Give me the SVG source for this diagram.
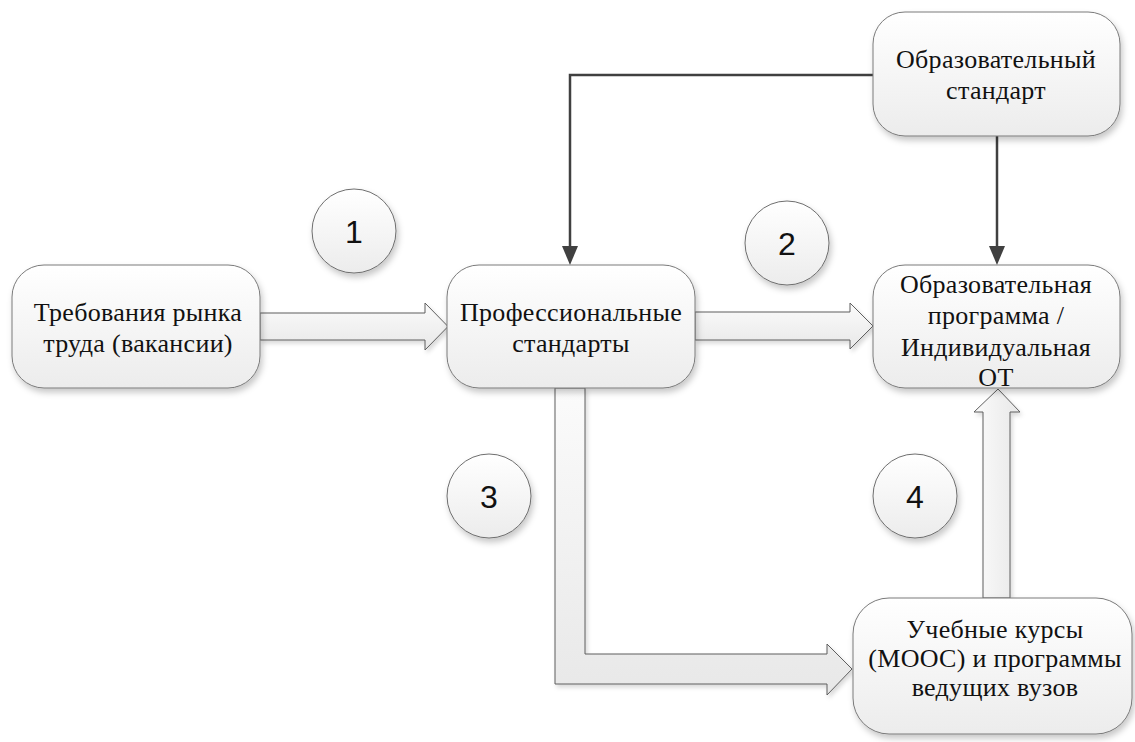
<svg xmlns="http://www.w3.org/2000/svg" width="1135" height="742" viewBox="0 0 1135 742">
<defs>
<linearGradient id="gBox" x1="0" y1="0" x2="0" y2="1"><stop offset="0" stop-color="#ffffff"/><stop offset="1" stop-color="#ececec"/></linearGradient>
<linearGradient id="gArrH" x1="0" y1="0" x2="0" y2="1"><stop offset="0" stop-color="#fbfbfb"/><stop offset="1" stop-color="#e8e8e8"/></linearGradient>
<linearGradient id="gArrV" x1="0" y1="0" x2="1" y2="0"><stop offset="0" stop-color="#fbfbfb"/><stop offset="1" stop-color="#e8e8e8"/></linearGradient>
<filter id="sh" x="-20%" y="-20%" width="140%" height="150%"><feDropShadow dx="2" dy="4" stdDeviation="3" flood-color="#000" flood-opacity="0.22"/></filter>
<filter id="sh2" x="-20%" y="-20%" width="140%" height="150%"><feDropShadow dx="2" dy="3" stdDeviation="2" flood-color="#000" flood-opacity="0.15"/></filter>
<style>
.box{fill:url(#gBox);stroke:#7a7a7a;stroke-width:1;filter:url(#sh)}
.circ{fill:url(#gBox);stroke:#6e6e6e;stroke-width:1;filter:url(#sh)}
.arrH{fill:url(#gArrH);stroke:#5e5e5e;stroke-width:1;filter:url(#sh2)}
.arrV{fill:url(#gArrV);stroke:#5e5e5e;stroke-width:1;filter:url(#sh2)}
.t{font-family:"Liberation Serif","Times New Roman",serif;font-size:26px;letter-spacing:0.3px;fill:#111;text-anchor:middle}
.n{font-family:"Liberation Sans",Arial,sans-serif;font-size:32px;fill:#111;text-anchor:middle}
.ln{fill:none;stroke:#404040;stroke-width:2.5}
.ah{fill:#404040}
</style>
</defs>
<rect width="1135" height="742" fill="#ffffff"/>
<g id="connectors">
<polygon class="arrH" points="260,313 425,313 425,303 448,326.5 425,350 425,340 260,340"/>
<polygon class="arrH" points="695,312 850,312 850,303 873,326 850,349 850,340 695,340"/>
<polygon class="arrH" points="555,388 555,684 827,684 827,695 852,669 827,644 827,654 585,654 585,388"/>
<polygon class="arrV" points="983,598 983,412 974,412 998,389 1020,412 1010,412 1010,598"/>
<path class="ln" d="M873,75 H570 V250"/>
<polygon class="ah" points="562,246 578,246 570,265"/>
<path class="ln" d="M997,136 V250"/>
<polygon class="ah" points="989,246 1005,246 997,265"/>
</g>
<g id="node-market">
<rect class="box" x="12" y="265" width="248" height="123" rx="32"/>
<text class="t" font-family="Liberation Serif, serif" x="138" y="321">Требования рынка</text>
<text class="t" font-family="Liberation Serif, serif" x="138" y="352">труда (вакансии)</text>
</g>
<g id="node-prof">
<rect class="box" x="447" y="265" width="248" height="123" rx="32"/>
<text class="t" font-family="Liberation Serif, serif" x="571" y="321">Профессиональные</text>
<text class="t" font-family="Liberation Serif, serif" x="571" y="352">стандарты</text>
</g>
<g id="node-edu-standard">
<rect class="box" x="873" y="12" width="247" height="124" rx="32"/>
<text class="t" font-family="Liberation Serif, serif" x="996" y="68">Образовательный</text>
<text class="t" font-family="Liberation Serif, serif" x="996" y="99">стандарт</text>
</g>
<g id="node-edu-program">
<rect class="box" x="873" y="265" width="247" height="123" rx="32"/>
<text class="t" font-family="Liberation Serif, serif" x="996" y="293">Образовательная</text>
<text class="t" font-family="Liberation Serif, serif" x="996" y="324">программа /</text>
<text class="t" font-family="Liberation Serif, serif" x="996" y="356">Индивидуальная</text>
<text class="t" font-family="Liberation Serif, serif" x="996" y="386">ОТ</text>
</g>
<g id="node-courses">
<rect class="box" x="853" y="598" width="279" height="136" rx="36"/>
<text class="t" font-family="Liberation Serif, serif" x="995" y="638">Учебные курсы</text>
<text class="t" font-family="Liberation Serif, serif" x="995" y="667">(МООС) и программы</text>
<text class="t" font-family="Liberation Serif, serif" x="995" y="696">ведущих вузов</text>
</g>
<g id="circle-1">
<circle class="circ" cx="354" cy="231" r="42"/>
<text class="n" x="354" y="243">1</text>
</g>
<g id="circle-2">
<circle class="circ" cx="787" cy="243" r="42"/>
<text class="n" x="787" y="255">2</text>
</g>
<g id="circle-3">
<circle class="circ" cx="489" cy="496" r="42"/>
<text class="n" x="489" y="508">3</text>
</g>
<g id="circle-4">
<circle class="circ" cx="915" cy="496" r="42"/>
<text class="n" x="915" y="508">4</text>
</g>
</svg>
